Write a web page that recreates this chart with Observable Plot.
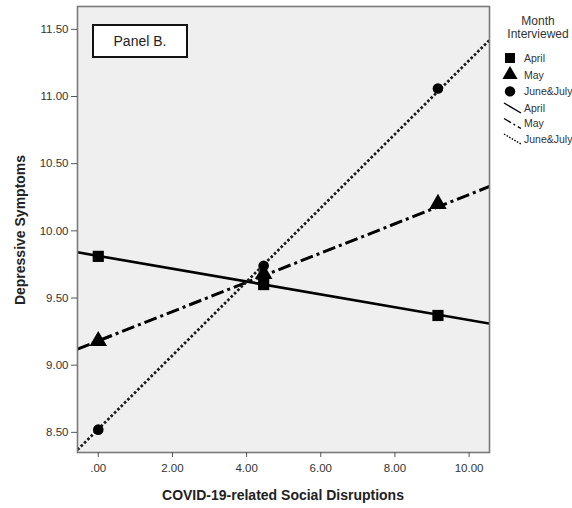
<!DOCTYPE html>
<html><head><meta charset="utf-8">
<script src="https://cdn.jsdelivr.net/npm/d3@7"></script>
<script src="https://cdn.jsdelivr.net/npm/@observablehq/plot@0.6"></script>
<style>body{margin:0;background:#fff} #chart{width:572px;height:508px}</style>
</head><body><div id="chart"></div>
<script>
const months = ["April", "May", "June&July"];
const symbols = ["square", "triangle", "circle"];
const pointX = [0, 4.46, 9.16];
const aprilPoints = [9.81, 9.60, 9.37];
const mayPoints = [9.18, 9.68, 10.20];
const juneJulyPoints = [8.52, 9.74, 11.06];
const lineX = [-0.56, 10.55];
const aprilLine = [9.84, 9.31];
const mayLine = [9.12, 10.33];
const juneJulyLine = [8.37, 11.42];
const xTicks = [0, 2, 4, 6, 8, 10];
const xTickLabels = [".00", "2.00", "4.00", "6.00", "8.00", "10.00"];
const yTicks = [8.5, 9, 9.5, 10, 10.5, 11, 11.5];
const yTickLabels = ["8.50", "9.00", "9.50", "10.00", "10.50", "11.00", "11.50"];
const xLabel = "COVID-19-related Social Disruptions";
const yLabel = "Depressive Symptoms";
const panelLabel = "Panel B.";
const legendTitle = ["Month", "Interviewed"];

const pointSeries = [aprilPoints, mayPoints, juneJulyPoints];
const lineSeries = [aprilLine, mayLine, juneJulyLine];
const dashes = [null, "13,4,3,4", "2.6,2.1"];
const widths = [2.6, 3, 2.7];
const radii = [6.3, 6.5, 5.3];

const lineMarks = months.map((m, i) => Plot.line(lineX.map((x, j) => ({x, y: lineSeries[i][j]})), {
  x: "x", y: "y", stroke: i === 2 ? "#1a1a1a" : "black", strokeWidth: widths[i], strokeDasharray: dashes[i],
  strokeLinecap: "butt", clip: true
}));
const dotMarks = months.map((m, i) => Plot.dot(pointX.map((x, j) => ({x, y: pointSeries[i][j]})), {
  x: "x", y: "y", symbol: symbols[i], r: radii[i], fill: "black", stroke: "none"
}));

const font = "'Liberation Sans', Arial, sans-serif";
const plot = Plot.plot({
  width: 572, height: 508,
  marginLeft: 77, marginRight: 83, marginTop: 6, marginBottom: 56,
  x: {domain: [-0.56, 10.55]},
  y: {domain: [8.35, 11.67]},
  style: {fontFamily: font, background: "#fff", overflow: "visible"},
  marks: [
    Plot.frame({fill: "#efefef", stroke: null}),
    ...lineMarks,
    ...dotMarks,
    Plot.frame({stroke: "#7a7a7a", strokeWidth: 1.6}),
    Plot.axisX({ticks: xTicks, tickFormat: d => xTickLabels[xTicks.indexOf(d)], tickSize: 5, tickPadding: 6, fontSize: 11.5, color: "#333", label: null, stroke: "#555"}),
    Plot.axisY({ticks: yTicks, tickFormat: d => yTickLabels[yTicks.indexOf(d)], tickSize: 6, tickPadding: 3, fontSize: 11.5, color: "#333", label: null, stroke: "#555"})
  ]
});
document.getElementById("chart").appendChild(plot);

const svg = d3.select(plot);
const txt = (x, y, s, size, anchor, weight) => svg.append("text").attr("x", x).attr("y", y)
  .attr("text-anchor", anchor).attr("font-family", font).attr("font-size", size)
  .attr("font-weight", weight || "normal").attr("fill", "#222").text(s);
// axis labels
txt(283, 500, xLabel, 14, "middle", "bold");
svg.append("text").attr("transform", "translate(25,230) rotate(-90)").attr("text-anchor", "middle")
  .attr("font-family", font).attr("font-weight", "bold").attr("font-size", 14).attr("fill", "#222").text(yLabel);
// panel label
svg.append("rect").attr("x", 93).attr("y", 25).attr("width", 94).attr("height", 32)
  .attr("fill", "white").attr("stroke", "#111").attr("stroke-width", 2);
txt(140, 46, panelLabel, 14, "middle");
// legend
legendTitle.forEach((t, k) => txt(538, 25 + 12.5 * k, t, 12, "middle").attr("fill", "#333"));
const symMap = {square: d3.symbolSquare, triangle: d3.symbolTriangle, circle: d3.symbolCircle};
const symSizes = [100, 100, 85];
months.forEach((m, i) => {
  const y = 58 + 16.7 * i;
  svg.append("path").attr("transform", `translate(510,${y})`).attr("d", d3.symbol(symMap[symbols[i]], symSizes[i])()).attr("fill", "black");
  txt(524, y + 3.8, m, 10.5, "start").attr("fill", "#333");
});
months.forEach((m, i) => {
  const y = 108 + 15.5 * i;
  svg.append("line").attr("x1", 504).attr("y1", y - 5).attr("x2", 521).attr("y2", y + 5)
    .attr("stroke", "black").attr("stroke-width", 1.4).attr("stroke-dasharray", i === 0 ? null : (i === 1 ? "8,3,2,3" : "1.5,1.5"));
  txt(524, y + 3.8, m, 10.5, "start").attr("fill", "#333");
});
</script>
</body></html>
